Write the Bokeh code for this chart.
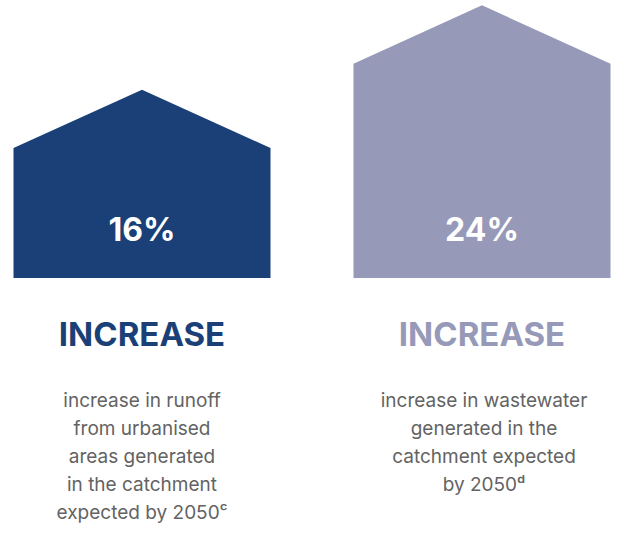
from bokeh.plotting import figure
from bokeh.models import Range1d, ColumnDataSource
from bokeh.core.properties import value
from bokeh.embed import file_html
from bokeh.resources import INLINE

# ---- data ----
values = [16, 24]
pct_labels = ["16%", "24%"]
headline = ["INCREASE", "INCREASE"]
descriptions = [
    ["increase in runoff", "from urbanised", "areas generated", "in the catchment", "expected by 2050\u1d9c"],
    ["increase in wastewater", "generated in the", "catchment expected", "by 2050\u1d48"],
]
colors = ["#1b3f77", "#9799b8"]

# ---- layout constants ----
W, H = 611, 524
K = 10.54                  # px per data unit (vertical)
Y_END = 24.46
Y_START = Y_END - H / K
BASE = -1.87               # house floor
ROOF = 5.53                # roof height in data units
CX0, GAP, HALF = 141.5, 340, 128.5


def py(px):
    """figure pixel (from top) -> data y"""
    return Y_END - px / K


p = figure(width=W, height=H, output_backend="svg", toolbar_location=None,
           x_range=Range1d(0, W), y_range=Range1d(Y_START, Y_END),
           min_border=0, min_border_left=0, min_border_right=0,
           min_border_top=0, min_border_bottom=0)
p.axis.visible = False
p.grid.visible = False
p.outline_line_color = None
p.background_fill_color = "white"
p.border_fill_color = "white"

xs, ys = [], []
cxs = []
for i, v in enumerate(values):
    cx = CX0 + i * GAP
    cxs.append(cx)
    xs.append([cx - HALF, cx - HALF, cx, cx + HALF, cx + HALF])
    ys.append([BASE, v - ROOF, v, v - ROOF, BASE])

p.patches(xs=xs, ys=ys, fill_color=colors, line_color=None)

# percent labels
p.text(x=cxs, y=[py(228.5)] * 2, text=pct_labels, text_color="white",
       text_font=value("Inter"), text_font_style="bold", text_font_size="32px",
       text_align="center", text_baseline="middle")

# headline
src_h = ColumnDataSource(dict(x=cxs, y=[py(333)] * 2, t=headline, c=colors))
p.text(x="x", y="y", text="t", text_color="c", source=src_h,
       text_font=value("Inter"), text_font_style="bold", text_font_size="33px",
       text_align="center", text_baseline="middle")

# description lines
lx, ly, lt = [], [], []
for i, lines in enumerate(descriptions):
    for j, line in enumerate(lines):
        lx.append(cxs[i] + (2 if i == 1 else 0))
        ly.append(py(399.5 + 28.1 * j))
        lt.append(line)
p.text(x=lx, y=ly, text=lt, text_color="#636363",
       text_font=value("Inter"), text_font_size="19px",
       text_align="center", text_baseline="middle")

open("out.html", "w").write(file_html(p, INLINE))
